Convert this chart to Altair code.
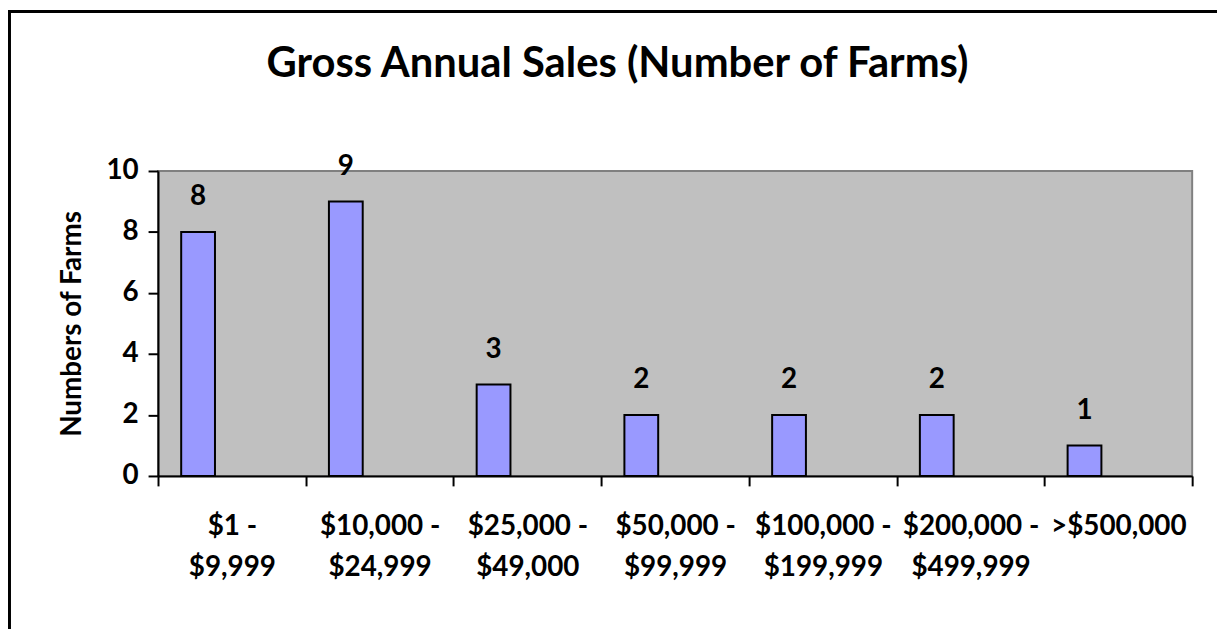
import altair as alt
import pandas as pd

categories = ["$1 -|$9,999", "$10,000 -|$24,999", "$25,000 -|$49,000", "$50,000 -|$99,999",
              "$100,000 -|$199,999", "$200,000 -|$499,999", ">$500,000"]
farms = [8, 9, 3, 2, 2, 2, 1]
series = ["A"] * len(categories)

df = pd.DataFrame({"cat": categories, "farms": farms, "s": series})

FONT = "Lato"
FS = 28
W, H = 1041, 307

x_enc = alt.X("cat:N", sort=categories, title=None,
              scale=alt.Scale(paddingInner=0, paddingOuter=0),
              axis=alt.Axis(labelExpr="split(datum.label, '|')", labelAngle=0,
                            tickBand="extent", tickSize=10, tickWidth=2, tickColor="black",
                            domainColor="black", domainWidth=2, labelFont=FONT,
                            labelFontSize=FS, labelFontWeight="bold", labelColor="black",
                            labelLineHeight=41, labelPadding=27, labelBaseline="top"))
xoff = alt.XOffset("s:N", scale=alt.Scale(domain=["A", "B", "C"], paddingInner=0,
                                          paddingOuter=0.686))
y_enc = alt.Y("farms:Q", scale=alt.Scale(domain=[0, 10], nice=False),
              axis=alt.Axis(values=[0, 2, 4, 6, 8, 10], grid=False, tickSize=10, tickWidth=2,
                            tickColor="black", domainColor="black", domainWidth=2,
                            labelFont=FONT, labelFontSize=FS, labelFontWeight="bold",
                            labelColor="black", labelPadding=10,
                            title="Numbers of Farms", titleFont=FONT, titleFontSize=FS,
                            titleFontWeight="bold", titleColor="black", titlePadding=20))

base = alt.Chart(df)
bars = base.mark_bar(color="#9999FF", stroke="black", strokeWidth=2).encode(
    x=x_enc, xOffset=xoff, y=y_enc)
labels = base.mark_text(font=FONT, fontSize=FS, fontWeight="bold", color="black",
                        dy=-35, baseline="middle").encode(
    x=alt.X("cat:N", sort=categories), xOffset=xoff, y="farms:Q", text="farms:Q")

border = alt.Chart(alt.Data(values=[{"k": 1}])).mark_rect(
    fill=None, stroke="black", strokeWidth=3).encode(
    x=alt.value(-149.5), x2=alt.value(W + 60), y=alt.value(-160.5), y2=alt.value(H + 200))

chart = alt.layer(bars, labels, border).properties(
    width=W, height=H,
    title=alt.TitleParams("Gross Annual Sales (Number of Farms)", font=FONT, fontSize=42,
                          fontWeight="bold", color="black", anchor="middle", frame="group",
                          baseline="alphabetic", dx=-58, offset=-109),
    autosize=alt.AutoSizeParams(type="none"),
    padding={"left": 151, "top": 162, "right": 25, "bottom": 152},
).configure_view(fill="#C0C0C0", stroke="#808080", strokeWidth=2)

chart.save("out.html", embed_options={"renderer": "svg", "actions": False})
